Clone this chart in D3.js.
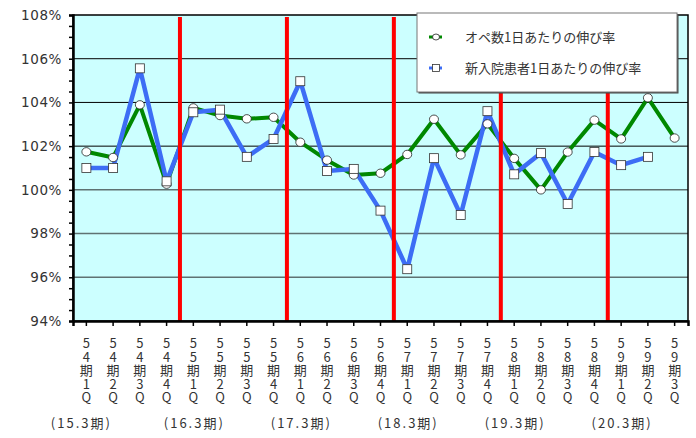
<!DOCTYPE html>
<html>
<head>
<meta charset="utf-8">
<script src="https://cdn.jsdelivr.net/npm/d3@7"></script>
<style>
  body { margin: 0; background: #fff; }
  text { font-family: "DejaVu Sans", "Noto Sans CJK JP", sans-serif; fill: #333; }
  .jp { font-family: "Noto Sans CJK JP", "DejaVu Sans", sans-serif; }
  .vert { writing-mode: vertical-rl; text-orientation: upright; }
</style>
</head>
<body>
<div class="chart"></div>
<script>
// quarters 54期1Q .. 59期3Q
var quarters = ["54期1Q","54期2Q","54期3Q","54期4Q","55期1Q","55期2Q","55期3Q","55期4Q",
                "56期1Q","56期2Q","56期3Q","56期4Q","57期1Q","57期2Q","57期3Q","57期4Q",
                "58期1Q","58期2Q","58期3Q","58期4Q","59期1Q","59期2Q","59期3Q"];
var opeRate = [101.74, 101.48, 103.89, 100.26, 103.75, 103.40, 103.25, 103.32,
               102.18, 101.36, 100.68, 100.76, 101.62, 103.23, 101.60, 103.02,
               101.44, 100.00, 101.73, 103.19, 102.33, 104.21, 102.37];
var admitRate = [101.00, 101.00, 105.56, 100.39, 103.55, 103.67, 101.51, 102.33,
                 104.97, 100.86, 100.96, 99.05, 96.37, 101.45, 98.85, 103.60,
                 100.71, 101.68, 99.35, 101.73, 101.13, 101.51, null];
var yTicks = [94, 96, 98, 100, 102, 104, 106, 108];
var periodLabels = ["(15.3期)", "(16.3期)", "(17.3期)", "(18.3期)", "(19.3期)", "(20.3期)"];
var seriesNames = ["オペ数1日あたりの伸び率", "新入院患者1日あたりの伸び率"];

var W = 696, H = 438;
var margin = { top: 15, right: 8, bottom: 117, left: 73 };
var width = W - margin.left - margin.right;
var height = H - margin.top - margin.bottom;

var svg = d3.select(".chart").append("svg")
    .attr("width", W).attr("height", H);
var g = svg.append("g")
    .attr("transform", "translate(" + margin.left + "," + margin.top + ")");

var x = d3.scaleBand().domain(quarters).range([0, width]);
var y = d3.scaleLinear().domain([94, 108]).range([height, 0]);
var cx = function(q) { return x(q) + x.bandwidth() / 2; };

g.append("rect").attr("width", width).attr("height", height).attr("fill", "#ccffff");

// grid
g.selectAll(".grid").data(yTicks.filter(function(v) { return v > 94 && v < 108; }))
  .enter().append("line")
    .attr("x1", 0).attr("x2", width)
    .attr("y1", function(d) { return y(d); }).attr("y2", function(d) { return y(d); })
    .attr("stroke", function(d) { return d >= 102 ? "#000" : "#5f7272"; })
    .attr("stroke-width", function(d) { return d >= 102 ? 1 : 1.5; });

var line = d3.line()
    .defined(function(d) { return d.v != null; })
    .x(function(d) { return cx(d.q); })
    .y(function(d) { return y(d.v); });

var opeData = quarters.map(function(q, i) { return { q: q, v: opeRate[i] }; });
var admitData = quarters.map(function(q, i) { return { q: q, v: admitRate[i] }; });

g.append("path").datum(opeData).attr("d", line)
  .attr("fill", "none").attr("stroke", "#008800").attr("stroke-width", 4).attr("stroke-linejoin", "round");
g.append("path").datum(admitData).attr("d", line)
  .attr("fill", "none").attr("stroke", "#3d6df5").attr("stroke-width", 4.5).attr("stroke-linejoin", "round");

// fiscal year separators
var seps = [4, 8, 12, 16, 20];
g.selectAll(".sep").data(seps).enter().append("line")
  .attr("x1", function(i) { return x(quarters[i]); })
  .attr("x2", function(i) { return x(quarters[i]); })
  .attr("y1", 2).attr("y2", height)
  .attr("stroke", "#ff0000").attr("stroke-width", 4);

g.selectAll(".dot").data(opeData).enter().append("ellipse")
  .attr("cx", function(d) { return cx(d.q); }).attr("cy", function(d) { return y(d.v); })
  .attr("rx", 4.5).attr("ry", 4.2)
  .attr("fill", "#fff").attr("stroke", "#222").attr("stroke-width", 0.8);

g.selectAll(".sq").data(admitData.filter(function(d) { return d.v != null; })).enter().append("rect")
  .attr("x", function(d) { return cx(d.q) - 4.5; }).attr("y", function(d) { return y(d.v) - 4.5; })
  .attr("width", 9).attr("height", 9)
  .attr("fill", "#fff").attr("stroke", "#333").attr("stroke-width", 0.8);

// frame
g.append("rect").attr("width", width).attr("height", height)
  .attr("fill", "none").attr("stroke", "#000").attr("stroke-width", 1.5);

// y axis
var yAxis = g.append("g")
  .call(d3.axisLeft(y).tickValues(d3.range(94, 108.01, 0.5)).tickSize(4)
    .tickFormat(function(d) { return d % 2 === 0 ? d + "%" : ""; }));
yAxis.select(".domain").attr("stroke-width", 2.5);
yAxis.selectAll(".tick line").attr("stroke-width", 1.5);
yAxis.selectAll("text").attr("font-size", 13.5).attr("x", -11).attr("fill", "#222")
  .attr("letter-spacing", 0.6).attr("font-family", "DejaVu Sans");

// x axis
var xAxis = g.append("g").attr("transform", "translate(0," + height + ")")
  .call(d3.axisBottom(x).tickSize(5).tickFormat(""));
xAxis.select(".domain").attr("stroke-width", 2.5);
xAxis.selectAll(".tick line").attr("stroke-width", 1.5);

// stacked quarter labels, one vertical text per column
g.selectAll(".qlab").data(quarters).enter().append("text")
  .attr("class", "jp vert")
  .attr("x", function(q) { return cx(q); })
  .attr("y", height + 16)
  .attr("font-size", 13).attr("letter-spacing", 0.4).attr("fill", "#333")
  .text(function(q) { return q; });

g.selectAll(".period").data(periodLabels).enter().append("text")
  .attr("class", "jp").attr("text-anchor", "middle").attr("font-size", 13)
  .attr("letter-spacing", 2)
  .attr("x", function(d, i) { return cx(quarters[i * 4]) - (i === 0 ? 6 : 0) + 1; })
  .attr("y", height + 107)
  .text(function(d) { return d; });

// legend
var lg = svg.append("g").attr("transform", "translate(417,13)");
lg.append("rect").attr("x", 1.5).attr("y", 1.5).attr("width", 260).attr("height", 79).attr("fill", "#444");
lg.append("rect").attr("width", 260).attr("height", 79).attr("fill", "#fff")
  .attr("stroke", "#777").attr("stroke-width", 1);
var colors = ["#008800", "#3d6df5"];
seriesNames.forEach(function(name, i) {
  var ly = 24 + i * 31;
  lg.append("line").attr("x1", 12).attr("x2", 25).attr("y1", ly).attr("y2", ly)
    .attr("stroke", colors[i]).attr("stroke-width", 3);
  if (i === 0) {
    lg.append("ellipse").attr("cx", 19).attr("cy", ly).attr("rx", 3.5).attr("ry", 3)
      .attr("fill", "#fff").attr("stroke", "#222").attr("stroke-width", 0.8);
  } else {
    lg.append("rect").attr("x", 15.5).attr("y", ly - 3.5).attr("width", 7).attr("height", 7)
      .attr("fill", "#fff").attr("stroke", "#333").attr("stroke-width", 0.8);
  }
  lg.append("text").attr("class", "jp").attr("x", 48).attr("y", ly + 4.5)
    .attr("font-size", 13).attr("fill", "#333").text(name);
});
</script>
</body>
</html>
